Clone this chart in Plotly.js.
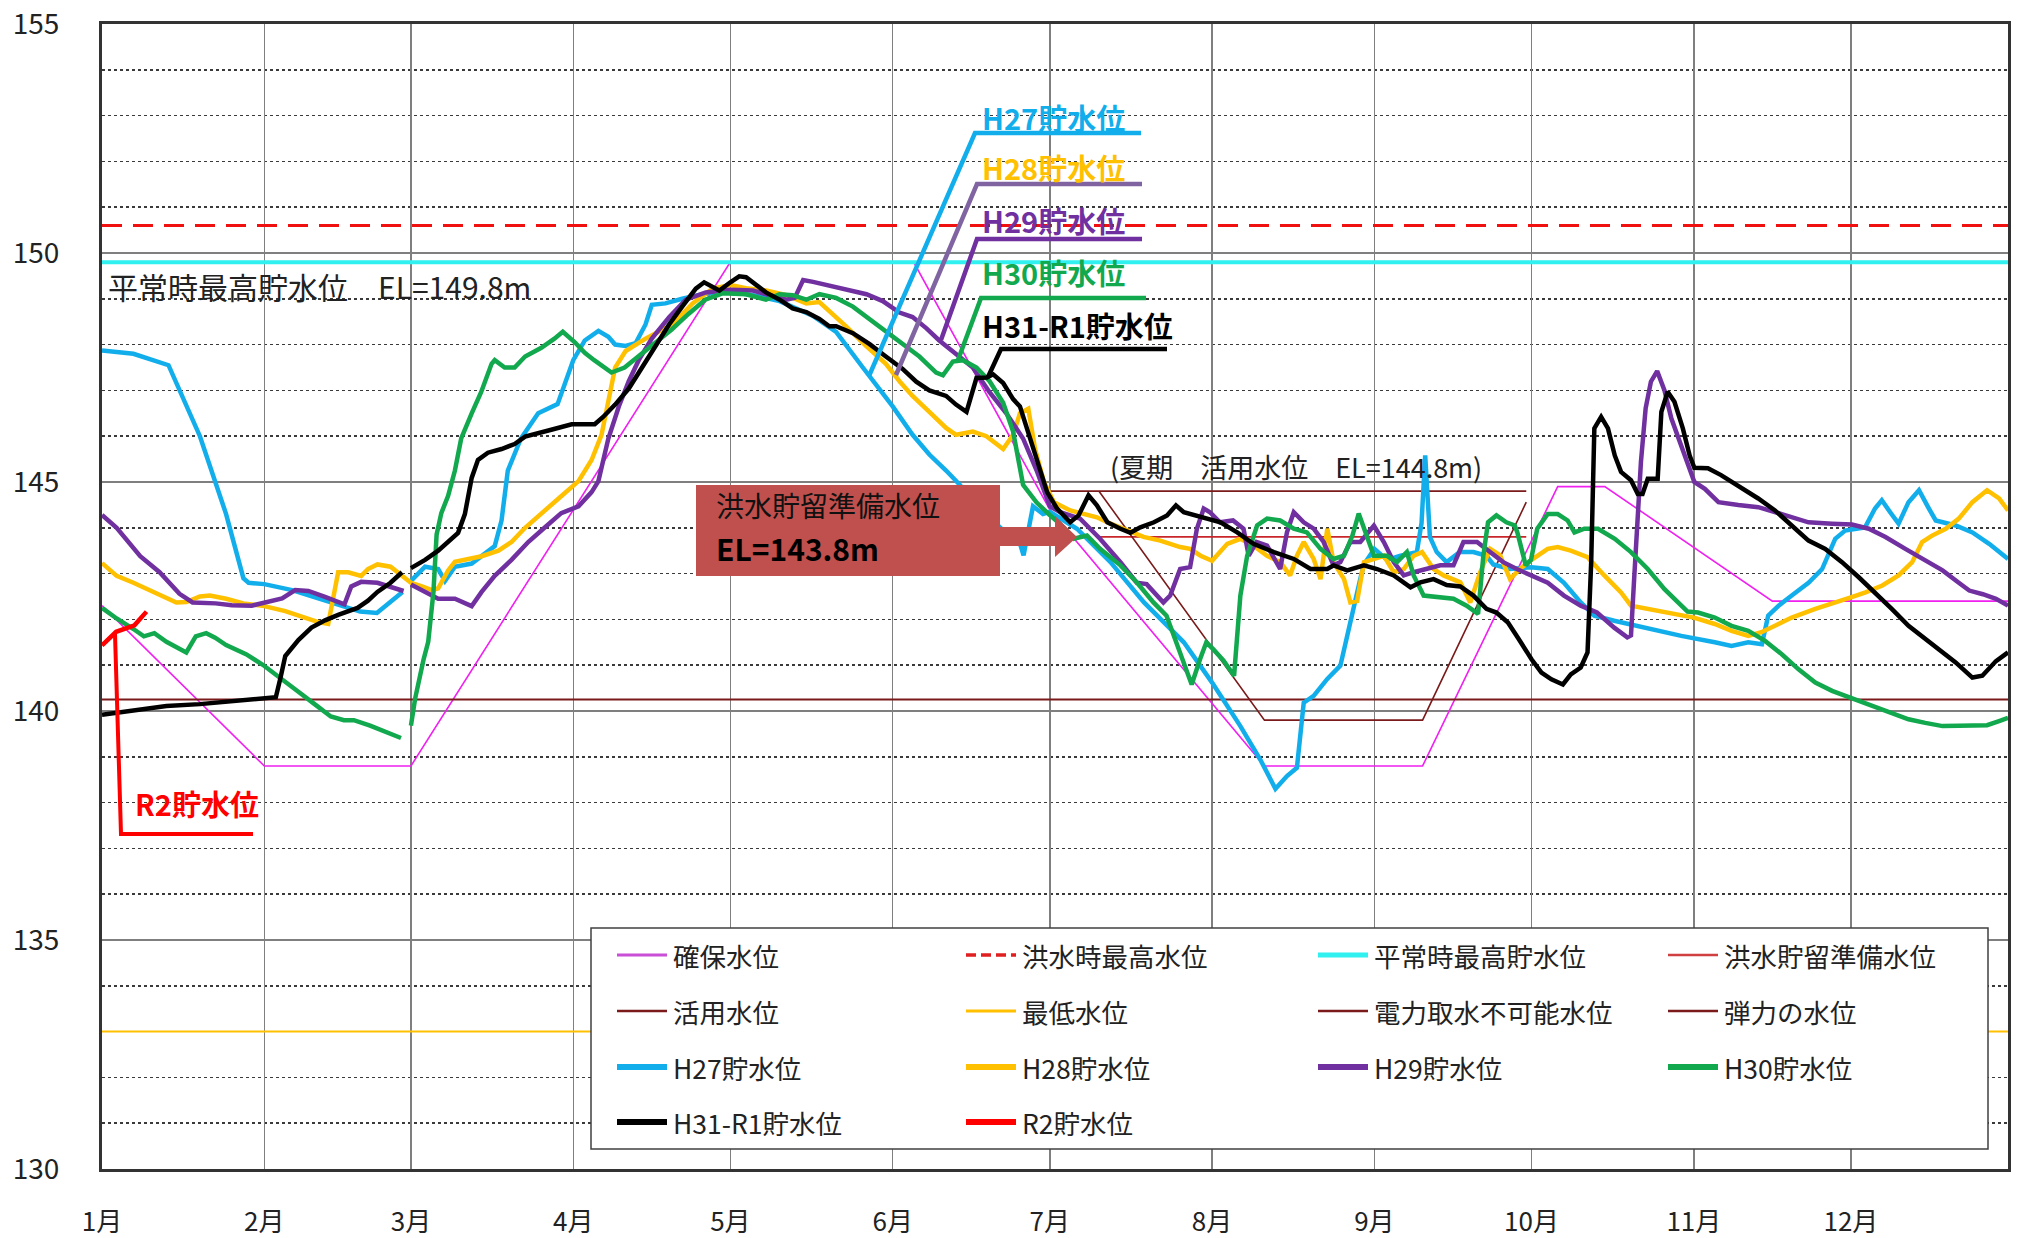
<!DOCTYPE html>
<html>
<head>
<meta charset="utf-8">
<script src="https://cdn.plot.ly/plotly-3.0.1.min.js"></script>
<style>html,body{margin:0;padding:0;background:#fff;}#chart{width:2019px;height:1238px;}</style>
</head>
<body>
<div id="chart"></div>
<script>
// ---- axis / tick data ----
const monthStartDays = [0, 31, 59, 90, 120, 151, 181, 212, 243, 273, 304, 334];
const monthLabels = ['1月','2月','3月','4月','5月','6月','7月','8月','9月','10月','11月','12月'];

// ---- reference levels ----
const kakuhoDay   = [0, 31, 59, 120, 155, 181, 222, 252.2, 278, 287, 319, 364];
const kakuhoLevel = [142.3, 138.8, 138.8, 149.8, 149.8, 144.4, 138.8, 138.8, 144.9, 144.9, 142.4, 142.4];
const floodMaxDay = [0, 364];
const floodMaxLevel = [150.6, 150.6];
const normalMaxDay = [0, 364];
const normalMaxLevel = [149.8, 149.8];
const floodPrepDay = [190, 272];
const floodPrepLevel = [143.8, 143.8];
const katsuyoDay = [181, 272];
const katsuyoLevel = [144.8, 144.8];
const minDay = [0, 364];
const minLevel = [133, 133];
const powerDay = [0, 364];
const powerLevel = [140.25, 140.25];
const elasticDay = [190.4, 222, 252.2, 272];
const elasticLevel = [144.8, 139.8, 139.8, 144.56];

// ---- storage levels ----
const h27Day = [0,6,12.7,18.7,23.7,27,28,31,36.3,43.8,49.3,52.5,57.4,58.2,59,61.7,64.2,65.5,67.4,70.6,75,76.3,77.5,80,83.3,87,90,92.2,94.8,96.7,98,100,101.9,103.8,105,107.6,110.8,114.7,117.9,120,124.3,129.4,135.7,140.2,145.3,151,154.8,158,161.2,163.8,167,172.5,175.2,176,177.8,179.7,181,186.2,192.6,199,204,206.6,212,217.4,221.2,224.1,226.3,228.2,229.5,231.4,234,236.5,237.8,239.4,240.3,241,243,245.4,248,251.1,252,252.7,253.6,254.9,256.8,259.3,261.9,264.4,265.7,268.9,273,276.1,279.2,282.4,285,288.8,295.2,301.6,308,311.2,314.4,317,318.2,320.2,322.7,325.9,328.5,329.7,331,332.9,336.7,338.6,339.9,341.5,343.1,345,347,348.9,350.2,354,357.2,360.4,364];
const h27Level = [147.87,147.8,147.55,146.0,144.3,142.9,142.8,142.77,142.64,142.37,142.17,142.14,142.6,null,142.84,143.15,143.1,142.84,143.15,143.22,143.6,144.16,145.25,145.95,146.5,146.7,147.66,148.09,148.3,148.17,148.0,147.97,148.03,148.44,148.87,148.9,149.0,149.1,149.15,149.15,149.08,148.95,148.63,148.28,147.5,146.65,146.03,145.6,145.25,144.94,144.5,143.9,143.7,143.4,144.47,144.3,144.35,143.98,143.25,142.37,141.8,141.5,140.62,139.67,138.94,138.3,138.58,138.76,140.18,140.33,140.7,140.99,141.64,142.5,142.88,143.2,143.54,143.3,143.39,143.47,144.1,145.58,143.8,143.47,143.25,143.47,143.47,143.39,143.2,143.1,143.14,143.1,142.8,142.37,142.08,141.97,141.8,141.64,141.5,141.42,141.5,141.46,142.08,142.3,142.52,142.8,143.1,143.4,143.76,143.94,144.01,144.42,144.6,144.34,144.09,144.56,144.82,144.42,144.16,144.05,143.9,143.65,143.32];

const h28Day = [0,2.8,6,9.2,12.3,14.2,16.1,18.7,20.6,23.7,27,31,35,38.8,41.3,43.2,43.8,45.1,47,49.5,50.8,52.6,55.1,57,59,61.1,63,64.2,66.1,67.4,69.3,72.5,75.7,78.2,80.8,83.9,87.8,91,93.5,95.4,96.7,98,100,103.8,108.9,112.8,116.6,120,123,126.8,130.7,134.5,137,139.6,142.1,145.9,149.7,152.3,154.8,158,161.2,163.1,166.3,168.9,172.1,174,175.3,176.9,178.2,179.9,181.8,184.9,188.1,190,192.6,195.7,198.9,202.1,205.9,207.8,209.8,212,214.9,217.4,219.9,222.5,225,226.9,228.2,229.5,231.4,232.7,234,235.2,237.2,238.4,239.7,241,242.9,244.8,246.7,248.6,250.5,252.1,254.3,256.2,259.4,261.3,263.2,265.1,267,268.9,270.8,273,276.1,278,280.5,283.7,286.9,290.1,292,295.2,299.7,304,308,311.2,314.4,316.9,319.5,322.7,327.2,330.4,334,336.8,340,343.1,345.7,347.6,349.5,352.1,354.6,357.2,360,362.3,364];
const h28Level = [143.23,142.95,142.8,142.64,142.49,142.37,142.38,142.5,142.52,142.45,142.35,142.29,142.18,142.02,141.94,141.9,142.29,143.03,143.03,142.95,143.1,143.2,143.15,142.99,142.8,142.72,142.64,142.68,143.07,143.26,143.3,143.38,143.5,143.69,144.0,144.32,144.7,145.02,145.48,146.03,146.8,147.5,147.86,148.13,148.44,148.9,149.22,149.3,149.23,149.18,149.08,148.9,148.93,148.67,148.4,147.97,147.58,147.2,146.88,146.53,146.18,146.03,146.1,146.0,145.72,146.03,146.5,146.6,145.72,145.0,144.56,144.38,144.3,144.23,144.09,143.94,143.8,143.72,143.58,143.54,143.39,143.28,143.65,143.76,143.61,143.39,143.25,142.96,143.39,143.69,143.32,142.88,143.98,143.25,142.88,142.37,142.4,143.25,143.32,143.39,143.03,143.1,143.39,143.47,143.1,142.96,142.81,142.37,143.03,143.54,143.4,142.88,143.1,143.3,143.54,143.58,143.5,143.36,142.96,142.59,142.3,142.23,142.12,142.04,141.9,141.75,141.64,141.72,141.86,142.04,142.23,142.34,142.48,142.59,142.74,142.96,143.25,143.69,143.83,143.98,144.2,144.56,144.82,144.64,144.38];

const h29Day = [0,2.8,7.3,11,14.8,17.3,21.7,24.8,28.6,31,34.4,36.9,39.4,42.6,46.3,47.6,49.5,52.6,55.1,57.6,58.3,59,61.7,64.2,67.4,70.6,72.5,75,78.2,81.4,84.5,87.7,91,93.5,94.8,96.7,98.7,100.6,102.5,105,108.3,111.5,115.3,120,124.3,128.1,130.7,132.3,133.9,135.8,138.4,142.2,146,149.1,152.3,154.8,157.4,159.9,163.1,166.3,169.5,172.7,175.9,178.5,181,183,186.8,190.6,194.5,197.6,199.5,202.7,204,205.9,207.8,209.1,210.4,211.6,213.5,216,218,219,220.5,222.5,225,226.3,227.6,229.5,231.4,233.3,235.2,236.5,238.4,240.3,242.9,244.8,246.7,248.6,250.5,253,255.6,258.1,260,262.6,265.1,267.6,270.2,273,276.1,279.2,282.4,285.5,288.8,291.3,292,292.6,293.9,294.8,295.8,297,298.4,299.7,301.3,302.9,304.1,306.1,308.7,312.5,316.3,320.8,325.9,330.4,334.2,337.4,340.6,344.4,347.6,351.5,354.6,356.6,359.2,361.7,364];
const h29Level = [144.28,144.0,143.38,143.03,142.56,142.37,142.35,142.31,142.3,142.37,142.46,142.64,142.62,142.49,142.33,142.72,142.82,142.8,142.72,142.62,null,142.76,142.6,142.45,142.45,142.29,142.6,142.95,143.3,143.69,144.0,144.32,144.47,144.78,145.02,145.95,146.65,147.2,147.66,148.13,148.6,148.98,149.14,149.2,149.18,149.07,148.98,149.02,149.41,149.37,149.3,149.18,149.1,148.95,148.7,148.6,148.36,148.09,147.78,147.5,146.96,146.5,145.95,145.25,144.47,144.34,144.2,143.76,143.25,142.8,142.77,142.37,142.52,143.1,143.14,143.98,144.42,144.34,144.12,144.16,143.98,143.39,143.69,143.61,143.1,143.9,144.34,144.12,143.98,143.69,143.18,143.25,143.69,143.69,144.05,143.69,143.25,142.96,143.03,143.1,143.18,143.18,143.69,143.69,143.47,143.25,143.1,142.96,142.8,142.52,142.3,142.15,141.82,141.61,141.65,142.88,145.44,146.61,147.19,147.42,147.0,146.39,145.88,145.44,145.0,144.85,144.56,144.5,144.45,144.3,144.12,144.09,144.07,143.98,143.8,143.54,143.32,143.07,142.8,142.63,142.55,142.45,142.3];

const h30Day = [0,2.8,6,8,10,12.3,16.1,17.9,19.9,21.6,23.7,27.5,30.7,34.4,37.5,40.6,43.7,46.2,48.1,51.2,54.3,57.1,58.1,59,59.8,61.4,62.3,63.3,63.9,64.8,66.1,67.4,68.6,70.6,72.4,74.4,75,76.9,78.8,80.8,83.9,86.4,88,90.3,92.2,94,97.3,99.8,102.4,105.6,108.8,112,115.2,118.5,123,126.8,129.4,131.9,134.5,137,140.2,143.4,146.6,149.7,152.9,156.1,159.3,160.6,162.5,164.4,167,169.5,172.1,174,175.9,178.5,181,183,185.6,188.1,190.6,194.5,197.6,200.8,203.3,205.2,206.5,208.1,209.7,210.9,212.2,214.2,216.2,217.4,218.7,220.6,222.5,225,227.6,230.1,232.7,235.2,237.2,238.8,240,241.6,242.9,245.4,247.3,249.2,250.5,252.4,254.9,258.1,260.6,262.8,263.8,264.7,266.3,268.2,269.8,270.3,271.9,272.9,274.1,276.1,278,279.9,281.2,283.1,285.7,288.9,292,295.2,298.4,301,302.8,304.8,308,311.2,314.4,317.6,320.8,324,327.2,330.4,334,337.4,341.2,345,348.2,351.5,354.6,357.8,360,362.3,364];
const h30Level = [142.25,142.02,141.79,141.63,141.7,141.51,141.28,141.63,141.7,141.6,141.44,141.24,141.01,140.7,140.42,140.15,139.88,139.8,139.8,139.68,139.53,139.41,null,139.68,140.27,141.12,141.51,142.6,143.85,144.32,144.7,145.25,145.95,146.5,146.96,147.58,147.66,147.5,147.5,147.74,147.93,148.13,148.28,148.05,147.82,147.66,147.39,147.5,147.74,148.01,148.33,148.67,148.98,149.12,149.1,148.98,149.1,149.08,148.98,149.1,149.02,148.83,148.56,148.28,148.01,147.74,147.39,147.33,147.63,147.66,147.5,147.2,146.73,146.1,144.94,144.55,144.28,144.08,143.76,143.83,143.54,143.18,142.81,142.37,142.08,141.5,141.13,140.58,141.13,141.5,141.35,141.1,140.77,142.52,143.39,144.05,144.2,144.16,143.98,143.9,143.54,143.32,143.39,143.83,144.31,143.83,143.39,143.39,143.25,143.47,142.96,142.52,142.48,142.45,142.3,142.12,143.39,144.12,144.27,144.12,144.05,143.9,143.18,143.3,143.98,144.3,144.3,144.16,143.9,143.98,143.98,143.76,143.47,143.1,142.66,142.37,142.17,142.15,142.04,141.86,141.75,141.53,141.24,140.91,140.62,140.44,140.29,140.15,139.97,139.82,139.74,139.67,139.68,139.68,139.69,139.78,139.85];

const h31Day = [0,2.8,6,9.2,12.3,18.7,23.7,28.1,31,33.2,34.1,35,37.5,40,42.6,45.1,48.8,50.8,52.6,55.1,57.3,58.2,59,61.7,64.2,66.4,68,69.3,70.6,71.8,73.7,76.3,78.8,80.8,83.9,85.8,89.7,94.1,95.7,98,100.6,103.1,105.7,108.3,110.8,113.4,115,116.6,117.9,120,121.7,123,124.9,126.8,129.4,131.9,134.5,137,138.9,140.2,143.4,146.6,149.7,152.9,155.5,158,161.2,163.1,165.1,167,169,170.2,172.1,174,175.3,177.2,179.1,180.5,182.4,184.9,186.5,188.4,190,192,194.5,196.4,198.3,200.9,203.4,205.1,206.6,209.8,213.6,216.8,219.9,223.8,227.6,230.8,234,235.2,237.8,241,243.5,246.7,249.9,251.8,254.3,256.8,259.4,261.9,264.4,266.3,268.5,270.4,273,274.9,276.8,279,280.5,282.4,283.7,284.4,285,286.3,287.6,288.9,290.1,292,293.3,294.2,295.2,297.1,297.8,299,300.3,301.9,303.2,304.1,306.7,309.2,312.4,316.3,319.5,322.7,325.9,329.1,332.3,335.5,338.6,341.8,345,348.2,351.4,354,357.2,359.1,361.7,364];
const h31Level = [139.92,139.96,140.03,140.07,140.11,140.15,140.2,140.23,140.27,140.3,140.73,141.2,141.55,141.82,141.98,142.1,142.25,142.41,142.6,142.8,143.03,null,143.12,143.3,143.5,143.73,143.89,144.3,145.09,145.48,145.64,145.72,145.83,145.99,146.07,146.14,146.26,146.26,146.42,146.69,147.04,147.5,147.97,148.44,148.83,149.22,149.36,149.26,149.18,149.36,149.49,149.47,149.3,149.14,148.98,148.79,148.71,148.56,148.4,148.4,148.25,148.01,147.74,147.47,147.19,147.0,146.88,146.69,146.53,147.27,147.28,147.35,147.16,146.81,146.65,145.95,145.25,144.78,144.42,144.12,144.27,144.71,144.49,144.12,143.98,143.89,144.01,144.12,144.27,144.49,144.34,144.23,144.12,143.9,143.65,143.47,143.32,143.1,143.1,143.18,143.07,143.18,143.1,142.96,142.7,142.81,142.88,142.75,142.72,142.52,142.23,142.15,141.93,141.6,141.13,140.84,140.69,140.58,140.8,140.95,141.28,143.25,146.17,146.42,146.17,145.58,145.22,145.04,144.74,144.74,145.07,145.07,146.53,146.97,146.75,146.17,145.58,145.31,145.3,145.15,144.93,144.64,144.38,144.05,143.72,143.54,143.25,142.92,142.59,142.23,141.86,141.57,141.31,141.06,140.73,140.77,141.09,141.28];

const r2Day = [0, 2.7, 6.2, 7.7, 8.5];
const r2Level = [141.43, 141.73, 141.87, 142.06, 142.17];

// ---- series names / styles ----
const seriesNames = ['確保水位','洪水時最高水位','平常時最高貯水位','洪水貯留準備水位','活用水位','最低水位','電力取水不可能水位','弾力の水位','H27貯水位','H28貯水位','H29貯水位','H30貯水位','H31-R1貯水位','R2貯水位'];
const seriesX = [kakuhoDay,floodMaxDay,normalMaxDay,floodPrepDay,katsuyoDay,minDay,powerDay,elasticDay,h27Day,h28Day,h29Day,h30Day,h31Day,r2Day];
const seriesY = [kakuhoLevel,floodMaxLevel,normalMaxLevel,floodPrepLevel,katsuyoLevel,minLevel,powerLevel,elasticLevel,h27Level,h28Level,h29Level,h30Level,h31Level,r2Level];
const seriesStyle = [
  {color:'#F020F0', width:1.6},
  {color:'#F01010', width:3.2, dash:'20px,11px'},
  {color:'#30F0F0', width:4},
  {color:'#C8262A', width:1.8},
  {color:'#7A1A1A', width:1.8},
  {color:'#FFC000', width:2},
  {color:'#7A1A1A', width:2},
  {color:'#7A1A1A', width:1.6},
  {color:'#12AEEB', width:4.5},
  {color:'#FFC000', width:4.5},
  {color:'#7030A0', width:4.5},
  {color:'#12A84E', width:4.5},
  {color:'#000000', width:4.5},
  {color:'#FF0000', width:4.5}
];
const legendStyle = [
  {color:'#C94FD6', width:3},{color:'#E02020', width:3.5, dash:'10px,5px'},{color:'#30F0F0', width:5},{color:'#D04040', width:2.5},
  {color:'#7A1A1A', width:2.5},{color:'#FFC000', width:3},{color:'#7A1A1A', width:2.5},{color:'#7A1A1A', width:2.5},
  {color:'#12AEEB', width:6},{color:'#FFC000', width:6},{color:'#7030A0', width:6},{color:'#12A84E', width:6},
  {color:'#000000', width:6},{color:'#FF0000', width:6}
];

const traces = seriesNames.map((n, i) => ({
  type:'scatter', mode:'lines', name:n, x:seriesX[i], y:seriesY[i],
  line:Object.assign({shape:'linear'}, seriesStyle[i]), connectgaps:false, showlegend:false, hoverinfo:'skip'
}));

// ---- pixel helpers for layout decorations ----
const PX0 = 102, PX1 = 2008, PY0 = 24, PY1 = 1169;
const dx = px => (px - PX0) / (PX1 - PX0) * 364;
const dy = py => 155 - (py - PY0) / (PY1 - PY0) * 25;

const FONT = '"Noto Sans CJK JP", "Noto Sans", sans-serif';
const shapes = [];
const annotations = [];

// callout box for flood-storage prep level
shapes.push({type:'rect', xref:'x', yref:'y', x0:dx(696), x1:dx(1000), y0:dy(485), y1:dy(576), fillcolor:'#C0504D', line:{width:0}, layer:'above'});
shapes.push({type:'path', xref:'x', yref:'y', layer:'above', fillcolor:'#C0504D', line:{width:0},
  path:`M ${dx(999)},${dy(527)} L ${dx(1055)},${dy(527)} L ${dx(1055)},${dy(516)} L ${dx(1077)},${dy(537)} L ${dx(1055)},${dy(557)} L ${dx(1055)},${dy(546)} L ${dx(999)},${dy(546)} Z`});
annotations.push({xref:'x', yref:'y', x:dx(714), y:dy(505), xanchor:'left', yanchor:'middle', showarrow:false,
  text:'洪水貯留準備水位', font:{family:FONT, size:28, color:'#111'}});
annotations.push({xref:'x', yref:'y', x:dx(714), y:dy(548), xanchor:'left', yanchor:'middle', showarrow:false,
  text:'<b>EL=143.8m</b>', font:{family:FONT, size:30, color:'#000'}});

// text labels
annotations.push({xref:'x', yref:'y', x:dx(106), y:dy(286), xanchor:'left', yanchor:'middle', showarrow:false, text:'平常時最高貯水位　EL=149.8m', font:{family:FONT, size:30, color:'#222'}});
annotations.push({xref:'x', yref:'y', x:dx(1108), y:dy(466), xanchor:'left', yanchor:'middle', showarrow:false, text:'(夏期　活用水位　EL=144.8m)', font:{family:FONT, size:27, color:'#222'}});

// year labels with leader lines
const tagText = ['H27貯水位','H28貯水位','H29貯水位','H30貯水位','H31-R1貯水位'];
const tagColor = ['#12AEEB','#FFC000','#7030A0','#12A84E','#000000'];
const leaderColor = ['#12AEEB','#8064A2','#7030A0','#12A84E','#000000'];
const tagY = [117, 167, 220, 272, 325];
const leaders = [
  [[869,376],[975,133],[1141,133]],
  [[896,375],[977,184],[1142,184]],
  [[941,340],[977,239],[1142,239]],
  [[958,360],[981,298],[1146,298]],
  [[988,377],[1001,349],[1167,349]]
];
for (let i = 0; i < 5; i++) {
  annotations.push({xref:'x', yref:'y', x:dx(980), y:dy(tagY[i]), xanchor:'left', yanchor:'middle', showarrow:false, text:'<b>'+tagText[i]+'</b>', font:{family:FONT, size:29, color:tagColor[i]}});
  const p = leaders[i];
  shapes.push({type:'path', xref:'x', yref:'y', layer:'above', line:{color:leaderColor[i], width:4.5},
    path:`M ${dx(p[0][0])},${dy(p[0][1])} L ${dx(p[1][0])},${dy(p[1][1])} L ${dx(p[2][0])},${dy(p[2][1])}`});
}
// R2 label
shapes.push({type:'path', xref:'x', yref:'y', layer:'above', line:{color:'#FF0000', width:4},
  path:`M ${dx(115)},${dy(634)} L ${dx(121)},${dy(834)} L ${dx(253)},${dy(834)}`});
annotations.push({xref:'x', yref:'y', x:dx(133), y:dy(803), xanchor:'left', yanchor:'middle', showarrow:false, text:'<b>R2貯水位</b>', font:{family:FONT, size:29, color:'#FF0000'}});

// manual legend
shapes.push({type:'rect', xref:'paper', yref:'paper', x0:(591-PX0)/(PX1-PX0), x1:(1988-PX0)/(PX1-PX0), y0:(PY1-1149)/(PY1-PY0), y1:(PY1-928)/(PY1-PY0), fillcolor:'#ffffff', line:{color:'#404040', width:1.5}, layer:'above'});
const legColX = [617, 966, 1318, 1668];
const legRowY = [955, 1011, 1067, 1122];
seriesNames.forEach((n, i) => {
  const c = i % 4, r = Math.floor(i / 4);
  const lx = legColX[c], ly = legRowY[r];
  const st = legendStyle[i];
  shapes.push({type:'line', xref:'x', yref:'y', layer:'above', x0:dx(lx), x1:dx(lx+50), y0:dy(ly), y1:dy(ly), line:{color:st.color, width:st.width, dash:st.dash||'solid'}});
  annotations.push({xref:'x', yref:'y', x:dx(lx+54), y:dy(ly), xanchor:'left', yanchor:'middle', showarrow:false, text:n, font:{family:FONT, size:26.5, color:'#222'}});
});

const layout = {
  width:2019, height:1238,
  margin:{l:PX0, r:2019-PX1, t:PY0, b:1238-PY1},
  paper_bgcolor:'#ffffff', plot_bgcolor:'#ffffff',
  showlegend:false,
  font:{family:FONT, color:'#222'},
  xaxis:{
    range:[0,364], tickmode:'array', tickvals:monthStartDays, ticktext:monthLabels,
    showgrid:true, gridcolor:'#7f7f7f', gridwidth:1.5, zeroline:false,
    showline:true, mirror:true, linecolor:'#333', linewidth:3,
    ticks:'', ticklabelstandoff:28, tickfont:{family:FONT, size:26, color:'#222'}
  },
  yaxis:{
    range:[130,155], tickmode:'linear', tick0:130, dtick:5,
    showgrid:true, gridcolor:'#7f7f7f', gridwidth:1.5, zeroline:false,
    showline:true, mirror:true, linecolor:'#333', linewidth:3,
    ticks:'', ticklabelstandoff:34, tickfont:{family:FONT, size:28, color:'#222'},
    minor:{dtick:1, tick0:130, showgrid:true, gridcolor:'#3a3a3a', gridwidth:1.5, griddash:'dot'}
  },
  shapes:shapes, annotations:annotations
};

Plotly.newPlot('chart', traces, layout, {displayModeBar:false, staticPlot:true});
</script>
</body>
</html>
